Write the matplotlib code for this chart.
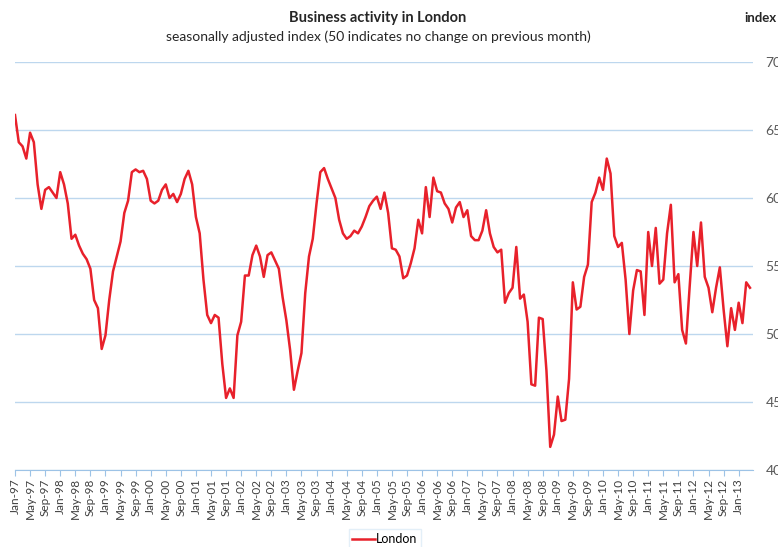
import numpy as np
import pandas as pd
import matplotlib
matplotlib.use("Agg")
import matplotlib.pyplot as plt

plt.rcParams['font.family'] = ['Lato', 'DejaVu Sans']

# monthly index, Jan-97 .. Apr-13
months = pd.date_range("1997-01-01", periods=196, freq="MS")
month_labels = [m.strftime("%b-%y") for m in months]

london = [
    66.1, 64.1, 63.8, 62.9, 64.8, 64.1, 61.0, 59.2, 60.6, 60.8, 60.4, 60.0,
    61.9, 61.0, 59.6, 57.0, 57.3, 56.5, 55.9, 55.5, 54.8, 52.5, 51.9, 48.9,
    49.9, 52.5, 54.6, 55.7, 56.8, 58.9, 59.8, 61.9, 62.1, 61.9, 62.0, 61.4,
    59.8, 59.6, 59.8, 60.6, 61.0, 60.0, 60.3, 59.7, 60.3, 61.4, 62.0, 61.0,
    58.6, 57.4, 54.0, 51.4, 50.8, 51.4, 51.2, 47.8, 45.3, 46.0, 45.3, 49.9,
    50.9, 54.3, 54.3, 55.8, 56.5, 55.7, 54.2, 55.8, 56.0, 55.4, 54.8, 52.7,
    51.0, 48.8, 45.9, 47.3, 48.6, 53.0, 55.7, 57.0, 59.6, 61.9, 62.2, 61.4,
    60.7, 60.0, 58.4, 57.4, 57.0, 57.2, 57.6, 57.4, 57.9, 58.6, 59.4, 59.8,
    60.1, 59.2, 60.4, 58.9, 56.3, 56.2, 55.7, 54.1, 54.3, 55.2, 56.3, 58.4,
    57.4, 60.8, 58.6, 61.5, 60.5, 60.4, 59.6, 59.2, 58.2, 59.3, 59.7, 58.6,
    59.1, 57.2, 56.9, 56.9, 57.6, 59.1, 57.4, 56.4, 56.0, 56.2, 52.3, 53.0,
    53.4, 56.4, 52.6, 52.9, 50.9, 46.3, 46.2, 51.2, 51.1, 47.3, 41.7, 42.6,
    45.4, 43.6, 43.7, 46.7, 53.8, 51.8, 52.0, 54.2, 55.1, 59.7, 60.4, 61.5,
    60.6, 62.9, 61.8, 57.2, 56.4, 56.7, 54.0, 50.0, 53.2, 54.7, 54.6, 51.4,
    57.5, 55.0, 57.8, 53.7, 54.0, 57.4, 59.5, 53.8, 54.4, 50.3, 49.3, 53.5,
    57.5, 55.0, 58.2, 54.2, 53.4, 51.6, 53.4, 54.9, 51.8, 49.1, 51.9, 50.3,
    52.3, 50.8, 53.8, 53.4,
]

fig = plt.figure(figsize=(7.78, 5.47), dpi=100)
ax = fig.add_axes([15/778, 1-470/547, (753-15)/778, (470-62)/547])

x = np.arange(len(london))
ax.plot(x, london, color='#E8212B', lw=1.8, label='London')

ax.set_ylim(40, 70)
ax.set_xlim(0, len(london) - 0.2)
ax.set_yticks(np.arange(40, 71, 5))
ax.yaxis.tick_right()
ax.tick_params(axis='y', length=0, pad=9, labelsize=10, labelcolor='#595959')
ax.grid(axis='y', color='#BDD7EE', lw=1)
ax.set_axisbelow(True)

ax.set_xticks(x[::4])
ax.set_xticklabels(month_labels[::4], rotation=90, fontsize=8.5, color='#404040')
ax.tick_params(axis='x', length=4, color='#9DC3E6', pad=2)

for s in ['top', 'left', 'right']:
    ax.spines[s].set_visible(False)
ax.spines['bottom'].set_color('#9DC3E6')

fig.text(378/778, 1-18/547, 'Business activity in London', ha='center', va='center',
         fontsize=10.5, fontweight='bold', color='#262626')
fig.text(378/778, 1-37/547, 'seasonally adjusted index (50 indicates no change on previous month)',
         ha='center', va='center', fontsize=10, color='#262626')
fig.text(760/778, 1-18/547, 'index', ha='center', va='center',
         fontsize=9.5, fontweight='bold', color='#262626')

leg = fig.legend(loc='center', bbox_to_anchor=(385/778, 1-539/547), fontsize=9,
                 frameon=True, fancybox=False, handlelength=1.8, handletextpad=0.1,
                 borderpad=0.3)
leg.get_frame().set_edgecolor('#DDEBF7')
leg.get_frame().set_linewidth(1)

fig.savefig('out.png', dpi=100)
